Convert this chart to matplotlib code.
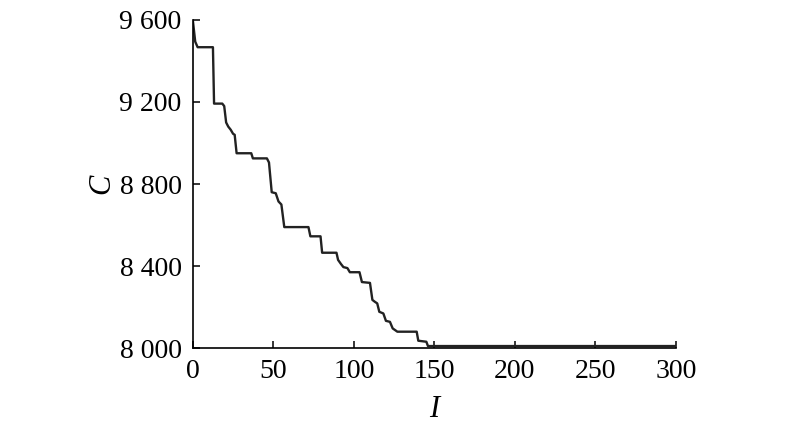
import matplotlib
matplotlib.use("Agg")
import matplotlib.pyplot as plt
from matplotlib.ticker import FuncFormatter

# corner points of the cost curve
iters = [0, 1.5, 3, 12.5, 13.2, 18.3, 19.5, 20.7, 22, 23.5, 25, 26, 27.2,
         36.3, 37.3, 46, 47.3, 49, 51.5, 53.2, 55, 56.8, 71.8, 73, 79.3,
         80.3, 89.2, 90.2, 92, 93.5, 96, 97.5, 103.5, 105, 110, 111.5,
         113, 114.5, 115.8, 118.3, 119.9, 122.4, 124.1, 127, 139, 140,
         145, 146, 300]
cost = [9600, 9494, 9467, 9467, 9192, 9192, 9180, 9100, 9080, 9065, 9045,
        9040, 8950, 8950, 8925, 8925, 8905, 8760, 8755, 8715, 8700, 8590,
        8590, 8545, 8545, 8465, 8465, 8430, 8410, 8395, 8390, 8370, 8370,
        8322, 8318, 8235, 8226, 8218, 8177, 8169, 8133, 8128, 8096, 8080,
        8080, 8036, 8031, 8010, 8010]

xticks = [0, 50, 100, 150, 200, 250, 300]
yticks = [8000, 8400, 8800, 9200, 9600]

plt.rcParams['font.family'] = ['Liberation Serif', 'DejaVu Serif']

fig = plt.figure(figsize=(8, 4.24), dpi=100)
ax = fig.add_axes([0.241, 0.179, 0.604, 0.774])

ax.plot(iters, cost, color='#222222', lw=1.7)

ax.set_xlim(0, 300)
ax.set_ylim(8000, 9600)
ax.set_xticks(xticks)
ax.set_yticks(yticks)
ax.yaxis.set_major_formatter(FuncFormatter(lambda v, p: '{:,}'.format(int(v)).replace(',', ' ')))

for s in ['top', 'right']:
    ax.spines[s].set_visible(False)
for s in ['left', 'bottom']:
    ax.spines[s].set_linewidth(1.2)

ax.tick_params(direction='in', length=5, width=1.1, labelsize=20, pad=8)
ax.set_xlabel('I', fontsize=22, style='italic', labelpad=8)
ax.set_ylabel('C', fontsize=22, style='italic', labelpad=2)

fig.savefig('out.png', dpi=100)
